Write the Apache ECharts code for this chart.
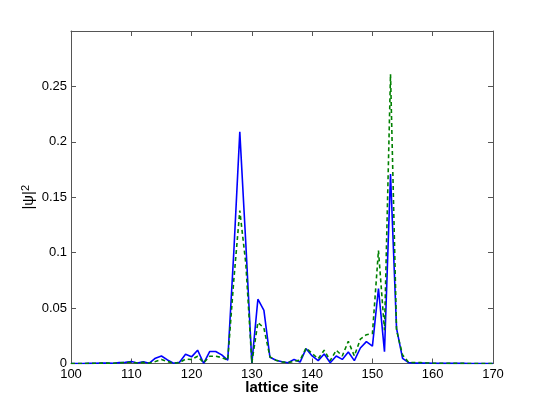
<!DOCTYPE html>
<html>
<head>
<meta charset="utf-8">
<script src="https://cdn.jsdelivr.net/npm/echarts@6/dist/echarts.min.js"></script>
<style>
html,body{margin:0;padding:0;background:#fff;}
#chart{width:545px;height:409px;}
</style>
</head>
<body>
<div id="chart"></div>
<script>
// lattice sites 100..170
const sites = [100,101,102,103,104,105,106,107,108,109,110,111,112,113,114,115,116,117,118,119,
  120,121,122,123,124,125,126,127,128,129,130,131,132,133,134,135,136,137,138,139,
  140,141,142,143,144,145,146,147,148,149,150,151,152,153,154,155,156,157,158,159,
  160,161,162,163,164,165,166,167,168,169,170];
// |psi|^2, solid blue curve
const psiBlue = [0,0,0,0.0001,0.0002,0.0004,0.0003,0.0002,0.0008,0.001,
  0.0018,0.0005,0.0015,0.0003,0.0048,0.0068,0.0032,0.0003,0.0012,0.0084,
  0.006,0.012,0.0002,0.0108,0.0108,0.0078,0.003,0.10,0.209,0.108,
  0.0005,0.058,0.048,0.0056,0.003,0.0016,0.0007,0.0037,0.0013,0.0134,
  0.0068,0.0026,0.0086,0.0007,0.0068,0.0037,0.0104,0.0026,0.014,0.0197,
  0.0157,0.0677,0.0107,0.171,0.0317,0.0047,0.0008,0.0003,0.0004,0.0003,
  0.0002,0.0001,0.0001,0.0001,0.0001,0.0001,0,0,0,0,0];
// |psi|^2, dashed green curve
const psiGreen = [0,0,0,0.0001,0.0002,0.0003,0.0003,0.0002,0.0006,0.0008,
  0.0012,0.0004,0.0010,0.0003,0.0018,0.0036,0.0018,0.0003,0.0008,0.004,
  0.0036,0.0066,0.0006,0.0066,0.0066,0.0054,0.003,0.075,0.138,0.09,
  0.0008,0.037,0.032,0.006,0.003,0.0015,0.0008,0.002,0.003,0.014,
  0.009,0.0043,0.012,0.0026,0.012,0.0068,0.020,0.0068,0.022,0.026,
  0.027,0.102,0.03,0.261,0.03,0.0077,0.001,0.0008,0.0008,0.0005,
  0.0003,0.0002,0.0002,0.0001,0.0001,0.0001,0,0,0,0,0];
const xTicks = [100,110,120,130,140,150,160,170];
const yTicks = [0,0.05,0.1,0.15,0.2,0.25];

const font = 'Liberation Sans, Helvetica, Arial, sans-serif';
const axisColor = '#555';
const chart = echarts.init(document.getElementById('chart'), null, {renderer:'canvas'});
const blueData = sites.map((s,i)=>[s, psiBlue[i]]);
const greenData = sites.map((s,i)=>[s, psiGreen[i]]);
const fmtY = v => (v > 0.29 ? '' : String(+v.toFixed(2)));
chart.setOption({
  animation:false,
  backgroundColor:'#fff',
  grid:{left:71, top:31, right:52, bottom:45.5, show:false},
  xAxis:[{
    type:'value', min:100, max:170, interval:10, position:'bottom',
    name:'lattice site', nameLocation:'middle', nameGap:17, nameMoveOverlap:false,
    nameTextStyle:{fontFamily:font, fontSize:15, fontWeight:'bold', color:'#000'},
    axisLine:{show:true, onZero:false, lineStyle:{color:axisColor, width:1}},
    axisTick:{show:true, inside:true, length:5, lineStyle:{color:axisColor}},
    axisLabel:{fontFamily:font, fontSize:13, color:'#000', margin:4},
    splitLine:{show:false}
  },{
    type:'value', min:100, max:170, interval:10, position:'top',
    axisLine:{show:true, onZero:false, lineStyle:{color:axisColor, width:1}},
    axisTick:{show:true, inside:true, length:5, lineStyle:{color:axisColor}},
    axisLabel:{show:false}, splitLine:{show:false}
  }],
  yAxis:[{
    type:'value', min:0, max:0.3, interval:0.05, position:'left',
    name:'|ψ|{sup|2}', nameLocation:'middle', nameGap:33, nameRotate:90, nameMoveOverlap:false,
    nameTextStyle:{fontFamily:font, fontSize:15, color:'#000', lineHeight:18,
      rich:{sup:{fontFamily:font, fontSize:11, verticalAlign:'top', lineHeight:18, color:'#000'}}},
    axisLine:{show:true, onZero:false, lineStyle:{color:axisColor, width:1}},
    axisTick:{show:true, inside:true, length:5, lineStyle:{color:axisColor}},
    axisLabel:{fontFamily:font, fontSize:13, color:'#000', margin:4, formatter:fmtY},
    splitLine:{show:false}
  },{
    type:'value', min:0, max:0.3, interval:0.05, position:'right',
    axisLine:{show:true, onZero:false, lineStyle:{color:axisColor, width:1}},
    axisTick:{show:true, inside:true, length:5, lineStyle:{color:axisColor}},
    axisLabel:{show:false}, splitLine:{show:false}
  }],
  series:[{
    type:'line', data:blueData, xAxisIndex:0, yAxisIndex:0,
    showSymbol:false, symbol:'none',
    lineStyle:{color:'#0000ff', width:1.6}, z:2
  },{
    type:'line', data:greenData, xAxisIndex:0, yAxisIndex:0,
    showSymbol:false, symbol:'none',
    lineStyle:{color:'#008000', width:1.6, type:[4,3]}, z:3
  }]
});
</script>
</body>
</html>
